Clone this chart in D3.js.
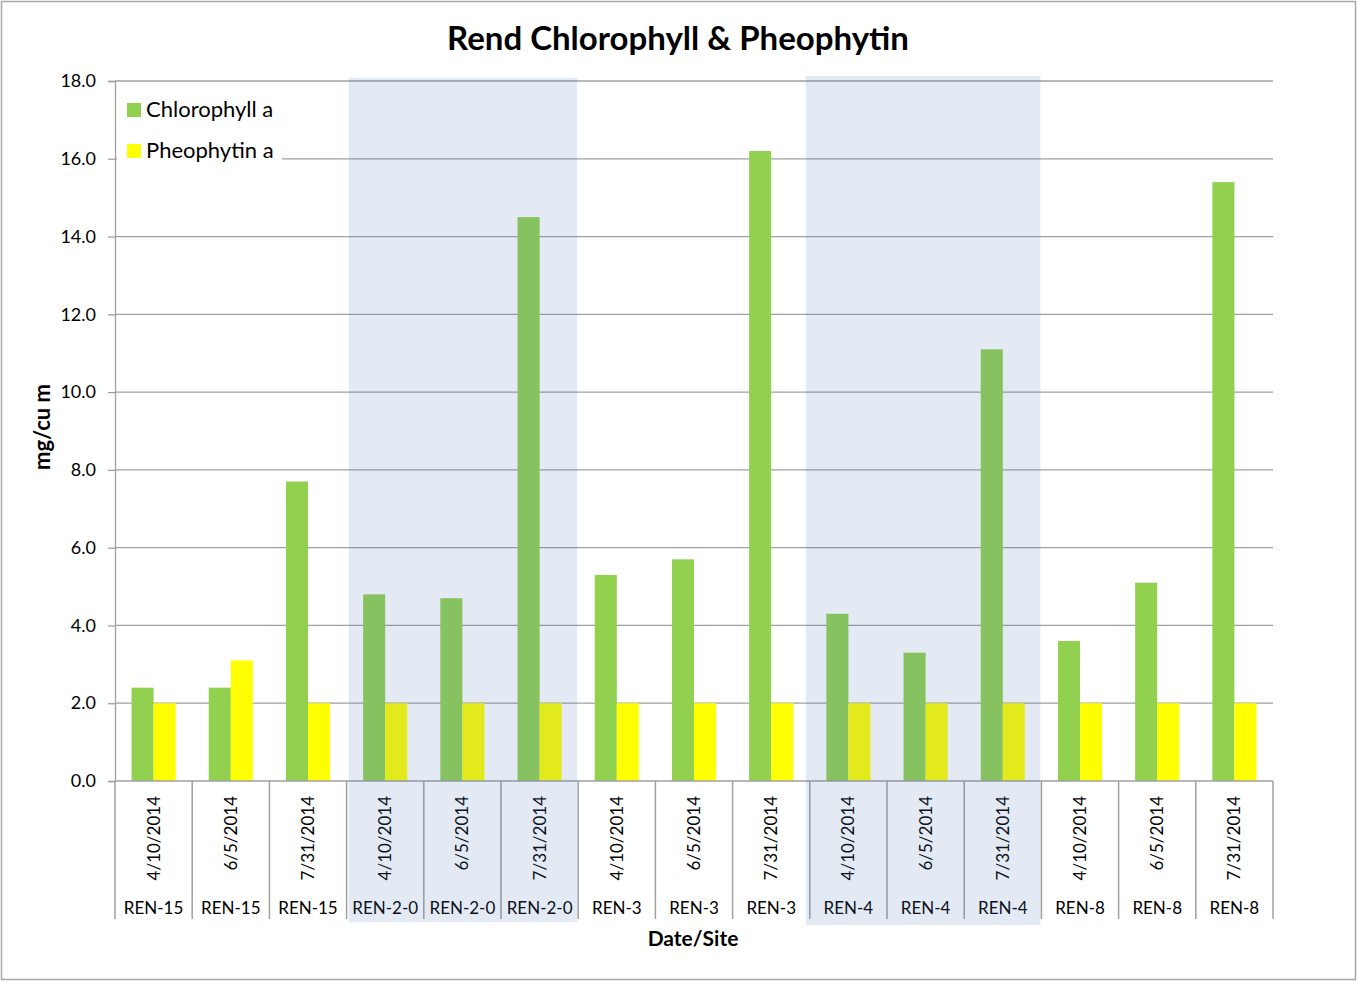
<!DOCTYPE html>
<html>
<head>
<meta charset="utf-8">
<script src="https://cdn.jsdelivr.net/npm/d3@7"></script>
<style>
  body { margin: 0; background: #fff; }
  text { font-family: Lato, "Open Sans", sans-serif; fill: #000; }
</style>
</head>
<body>
<svg id="chart" width="1358" height="982"></svg>
<script>
// Data
const dates = ["4/10/2014", "6/5/2014", "7/31/2014",
  "4/10/2014", "6/5/2014", "7/31/2014",
  "4/10/2014", "6/5/2014", "7/31/2014",
  "4/10/2014", "6/5/2014", "7/31/2014",
  "4/10/2014", "6/5/2014", "7/31/2014"];
const sites = ["REN-15", "REN-15", "REN-15",
  "REN-2-0", "REN-2-0", "REN-2-0",
  "REN-3", "REN-3", "REN-3",
  "REN-4", "REN-4", "REN-4",
  "REN-8", "REN-8", "REN-8"];
const chlorophyll = [2.4, 2.4, 7.7, 4.8, 4.7, 14.5, 5.3, 5.7, 16.2, 4.3, 3.3, 11.1, 3.6, 5.1, 15.4];
const pheophytin = [2.0, 3.1, 2.0, 2.0, 2.0, 2.0, 2.0, 2.0, 2.0, 2.0, 2.0, 2.0, 2.0, 2.0, 2.0];
const seriesNames = ["Chlorophyll a", "Pheophytin a"];
const seriesColors = ["#92d050", "#ffff00"];
const yTicks = [0, 2, 4, 6, 8, 10, 12, 14, 16, 18];
const shadedSites = ["REN-2-0", "REN-4"];

const svg = d3.select("#chart");
const W = +svg.attr("width"), H = +svg.attr("height");
const plotL = 115, plotR = 1273, plotT = 81, plotB = 781;
const gridColor = "#a0a0a0";

// outer border
svg.append("rect")
  .attr("x", 1.5).attr("y", 1.5)
  .attr("width", W - 4).attr("height", H - 4)
  .attr("fill", "#fff").attr("stroke", "#a6a6a6").attr("stroke-width", 1.5);

const x0 = d3.scaleBand()
  .domain(d3.range(dates.length))
  .range([plotL, plotR]);

const x1 = d3.scaleBand()
  .domain([0, 1])
  .range([0, x0.bandwidth()])
  .paddingOuter(0.75);

const y = d3.scaleLinear()
  .domain([0, 18])
  .range([plotB, plotT]);

// gridlines
svg.append("g")
  .selectAll("line")
  .data(yTicks.slice(1))
  .enter()
  .append("line")
  .attr("x1", plotL).attr("x2", plotR)
  .attr("y1", d => y(d)).attr("y2", d => y(d))
  .attr("stroke", gridColor).attr("stroke-width", 1.3);

// y axis
const yAxis = svg.append("g")
  .attr("transform", `translate(${plotL},0)`)
  .call(d3.axisLeft(y).tickValues(yTicks).tickFormat(d3.format(".1f")).tickSize(7).tickPadding(12));
yAxis.select(".domain").attr("stroke", gridColor).attr("stroke-width", 1.3);
yAxis.selectAll(".tick line").attr("stroke", gridColor).attr("stroke-width", 1.3);
yAxis.selectAll(".tick text")
  .style("font-family", "Lato, sans-serif").style("font-size", "18px").attr("fill", "#000");

// bars
const series = [chlorophyll, pheophytin];
const groups = svg.append("g")
  .selectAll("g")
  .data(d3.range(dates.length))
  .enter()
  .append("g")
  .attr("transform", i => `translate(${x0(i)},0)`);

groups.selectAll("rect")
  .data(i => series.map((s, k) => ({ k: k, v: s[i] })))
  .enter()
  .append("rect")
  .attr("x", d => x1(d.k))
  .attr("width", x1.bandwidth())
  .attr("y", d => y(d.v))
  .attr("height", d => y(0) - y(d.v))
  .attr("fill", d => seriesColors[d.k]);

// category axis: baseline and separators
svg.append("line")
  .attr("x1", plotL).attr("x2", plotR)
  .attr("y1", plotB).attr("y2", plotB)
  .attr("stroke", gridColor).attr("stroke-width", 1.5);

const bounds = d3.range(dates.length).map(i => x0(i)).concat([plotR]);
svg.append("g")
  .selectAll("line")
  .data(bounds)
  .enter()
  .append("line")
  .attr("x1", d => d).attr("x2", d => d)
  .attr("y1", plotB).attr("y2", 919)
  .attr("stroke", gridColor).attr("stroke-width", 1.5);

// date labels (rotated)
svg.append("g")
  .selectAll("text")
  .data(dates)
  .enter()
  .append("text")
  .attr("transform", (d, i) => `translate(${x0(i) + x0.bandwidth() / 2 + 6},796) rotate(-90)`)
  .attr("text-anchor", "end")
  .style("font-size", "17px")
  .text(d => d);

// site labels
svg.append("g")
  .selectAll("text")
  .data(sites)
  .enter()
  .append("text")
  .attr("x", (d, i) => x0(i) + x0.bandwidth() / 2)
  .attr("y", 914)
  .attr("text-anchor", "middle")
  .style("font-size", "17px")
  .text(d => d);

// legend
svg.append("rect")
  .attr("x", 117).attr("y", 86)
  .attr("width", 165).attr("height", 84)
  .attr("fill", "#fff");

const legend = svg.append("g")
  .selectAll("g")
  .data(seriesNames)
  .enter()
  .append("g")
  .attr("transform", (d, i) => `translate(127,${103 + i * 41})`);
legend.append("rect")
  .attr("width", 14).attr("height", 14)
  .attr("fill", (d, i) => seriesColors[i]);
legend.append("text")
  .attr("x", 19).attr("y", 14)
  .style("font-size", "22px")
  .text(d => d);

// shaded site bands (overlay)
const shade = svg.append("g");
shadedSites.forEach(function(site, j) {
  const idx = sites.map((s, i) => s === site ? i : -1).filter(i => i >= 0);
  const x = x0(idx[0]) + (j === 0 ? 2 : -4);
  const x2 = x0(idx[idx.length - 1]) + x0.bandwidth() - 1;
  shade.append("rect")
    .attr("x", x).attr("y", j === 0 ? 78 : 76)
    .attr("width", x2 - x)
    .attr("height", j === 0 ? 844 : 849)
    .attr("fill", "#4876b7")
    .attr("fill-opacity", 0.153);
});

// titles
svg.append("text")
  .attr("x", 678).attr("y", 50)
  .attr("text-anchor", "middle")
  .style("font-size", "33px").style("font-weight", "bold")
  .text("Rend Chlorophyll & Pheophytin");

svg.append("text")
  .attr("transform", "translate(50,427) rotate(-90)")
  .attr("text-anchor", "middle")
  .style("font-size", "22px").style("font-weight", "bold")
  .text("mg/cu m");

svg.append("text")
  .attr("x", 693).attr("y", 946)
  .attr("text-anchor", "middle")
  .style("font-size", "21px").style("font-weight", "bold")
  .text("Date/Site");
</script>
</body>
</html>
